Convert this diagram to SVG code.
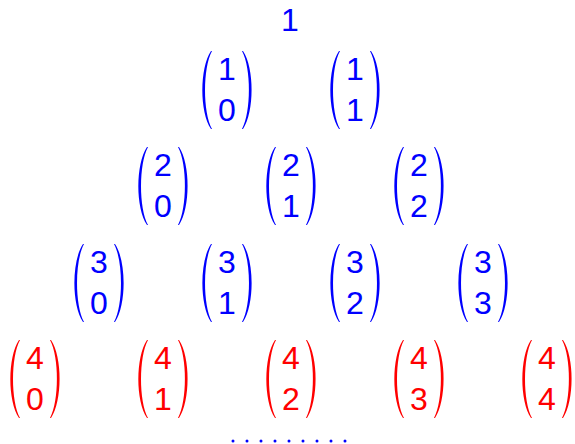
<svg xmlns="http://www.w3.org/2000/svg" xmlns:xlink="http://www.w3.org/1999/xlink" width="575" height="444" viewBox="0 0 575 444">
<defs>
<style>
text{font-family:"Liberation Sans",Arial,sans-serif;font-size:32px;text-anchor:middle}
.b{fill:#0000ff}
.r{fill:#ff0000}
</style>
<path id="lp" d="M -16,-39 C -27.5,-22 -27.5,22 -16,39 L -15,39 C -24.3,22 -24.3,-22 -15,-39 Z"/>
<g id="par"><use href="#lp" xlink:href="#lp"/><use href="#lp" xlink:href="#lp" transform="scale(-1,1)"/></g>
</defs>
<rect width="575" height="444" fill="#fff"/>
<g id="n00" class="b"><text x="290" y="31">1</text></g>
<g id="n10" class="b" transform="translate(227,90)"><use href="#par" xlink:href="#par"/><text y="-10">1</text><text y="31">0</text></g>
<g id="n11" class="b" transform="translate(355,90)"><use href="#par" xlink:href="#par"/><text y="-10">1</text><text y="31">1</text></g>
<g id="n20" class="b" transform="translate(163,186)"><use href="#par" xlink:href="#par"/><text y="-10">2</text><text y="31">0</text></g>
<g id="n21" class="b" transform="translate(291,186)"><use href="#par" xlink:href="#par"/><text y="-10">2</text><text y="31">1</text></g>
<g id="n22" class="b" transform="translate(419,186)"><use href="#par" xlink:href="#par"/><text y="-10">2</text><text y="31">2</text></g>
<g id="n30" class="b" transform="translate(99,283)"><use href="#par" xlink:href="#par"/><text y="-10">3</text><text y="31">0</text></g>
<g id="n31" class="b" transform="translate(227,283)"><use href="#par" xlink:href="#par"/><text y="-10">3</text><text y="31">1</text></g>
<g id="n32" class="b" transform="translate(355,283)"><use href="#par" xlink:href="#par"/><text y="-10">3</text><text y="31">2</text></g>
<g id="n33" class="b" transform="translate(483,283)"><use href="#par" xlink:href="#par"/><text y="-10">3</text><text y="31">3</text></g>
<g id="n40" class="r" transform="translate(35,379)"><use href="#par" xlink:href="#par"/><text y="-10">4</text><text y="31">0</text></g>
<g id="n41" class="r" transform="translate(163,379)"><use href="#par" xlink:href="#par"/><text y="-10">4</text><text y="31">1</text></g>
<g id="n42" class="r" transform="translate(291,379)"><use href="#par" xlink:href="#par"/><text y="-10">4</text><text y="31">2</text></g>
<g id="n43" class="r" transform="translate(419,379)"><use href="#par" xlink:href="#par"/><text y="-10">4</text><text y="31">3</text></g>
<g id="n44" class="r" transform="translate(547,379)"><use href="#par" xlink:href="#par"/><text y="-10">4</text><text y="31">4</text></g>
<g id="dots" class="b">
<circle cx="233" cy="441" r="1.5"/><circle cx="247" cy="441" r="1.5"/><circle cx="261" cy="441" r="1.5"/><circle cx="275" cy="441" r="1.5"/><circle cx="289" cy="441" r="1.5"/><circle cx="303" cy="441" r="1.5"/><circle cx="317" cy="441" r="1.5"/><circle cx="331" cy="441" r="1.5"/><circle cx="345" cy="441" r="1.5"/>
</g>
<g id="connectors"/>
</svg>
